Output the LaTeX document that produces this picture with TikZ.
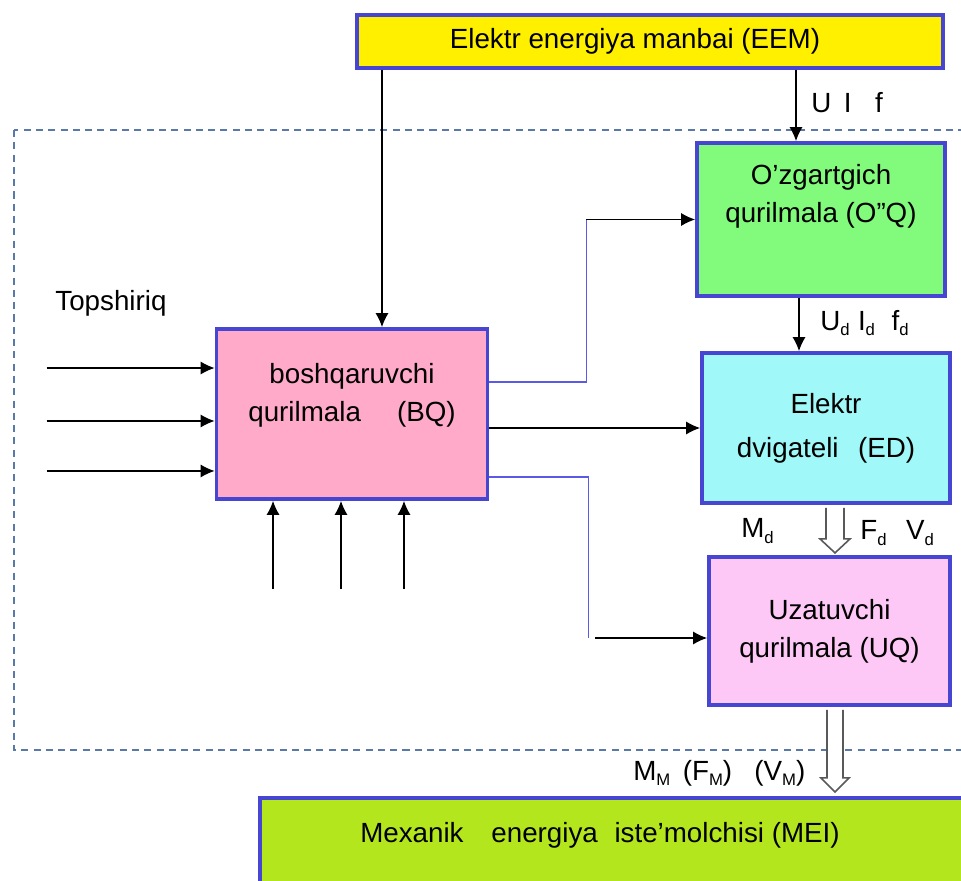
\documentclass[tikz,border=0pt]{standalone}
\usepackage{fontspec}
\setmainfont{Liberation Sans}
\usepackage{xcolor}
\definecolor{BorderBlue}{HTML}{4646D2}
\definecolor{FrameBlue}{HTML}{5A78A8}
\definecolor{LineBlue}{HTML}{5A5AE6}
\definecolor{SourceYellow}{HTML}{FFF000}
\definecolor{ConvGreen}{HTML}{82FA7C}
\definecolor{MotorCyan}{HTML}{A0F8F8}
\definecolor{GearPink}{HTML}{FDC8F6}
\definecolor{CtrlPink}{HTML}{FFAAC8}
\definecolor{LoadLime}{HTML}{B4E61E}
\usepackage{tikz}
\usetikzlibrary{calc, arrows.meta, positioning}
\newcommand{\lowsub}[1]{\raisebox{-0.35ex}{\fontsize{9.5}{9.5}\selectfont #1}}

\begin{document}
\begin{tikzpicture}[x=0.02cm, y=-0.02cm,
  font=\fontsize{15.8}{21.5}\selectfont,
  blockbox/.style={draw=BorderBlue, line width=2.2pt, align=center, inner sep=0pt},
  sig/.style={-{Latex[length=8pt,width=7.5pt]}, line width=0.7pt},
  ctrl/.style={LineBlue, line width=0.8pt},
  hollow/.style={draw=black!65, fill=white, line width=0.9pt},
  lbl/.style={inner sep=0pt, anchor=west}]
  \clip (0,0) rectangle (961,881);
  % dashed frame
  \draw[dashed, FrameBlue, line width=0.7pt, dash pattern=on 4pt off 3pt] (14,130) rectangle (995,750);

  % blocks
  \node[blockbox, fill=SourceYellow, minimum width=11.72cm, minimum height=1.06cm] (EEM) at (650,41.5) {Elektr energiya manbai (EEM)\hspace*{0.6cm}};
  \node[blockbox, fill=ConvGreen, minimum width=4.96cm, minimum height=3.06cm] (OQ) at (821,219.5) {O’zgartgich\\qurilmala (O”Q)\\[0.3cm]};
  \node[blockbox, fill=MotorCyan, minimum width=4.96cm, minimum height=3cm] (ED) at (826,428) {Elektr\\[0.12cm]dvigateli\hspace{0.7em}(ED)};
  \node[blockbox, fill=CtrlPink, minimum width=5.42cm, minimum height=3.4cm] (BQ) at (352,414) {boshqaruvchi\\qurilmala\hspace{1.3em}(BQ)\\[0.1cm]};
  \node[blockbox, fill=GearPink, minimum width=4.82cm, minimum height=2.96cm] (UQ) at (829.5,631) {Uzatuvchi\\qurilmala (UQ)};
  \node[blockbox, fill=LoadLime, minimum width=15cm, minimum height=2.2cm, anchor=north west] (MEI) at (258,796) {};
  \node (MEItxt) at (600,835) {Mexanik\hspace{1em}energiya\hspace{0.6em}iste’molchisi (MEI)};

  % labels
  \node[lbl] (task) at (55,303) {Topshiriq};
  \node[lbl] (uif) at (811,103) {U\hspace{0.45em}I\hspace{0.85em}f};
  \node[lbl] (uidf) at (820,323) {U\lowsub{d}\hspace{0.3em}I\lowsub{d}\hspace{0.6em}f\lowsub{d}};
  \node[lbl] (md) at (741,531) {M\lowsub{d}};
  \node[lbl] (fv) at (860,533) {F\lowsub{d}\hspace{0.7em}V\lowsub{d}};
  \node[lbl] (mfv) at (633,773) {M\lowsub{M}\hspace{0.45em}(F\lowsub{M})\hspace{0.8em}(V\lowsub{M})};

  % power path
  \coordinate (oqtop) at ([xshift=-0.5cm]OQ.north);
  \draw[sig] (EEM.south -| oqtop) -- (oqtop);
  \coordinate (oqbot) at ([xshift=-0.44cm]OQ.south);
  \draw[sig] (oqbot) -- (oqbot |- ED.north);
  \coordinate (bqtop) at ([xshift=0.6cm]BQ.north);
  \draw[sig] (EEM.south -| bqtop) -- (bqtop);

  % control outputs
  \coordinate (bqa) at ([yshift=0.64cm]BQ.east);
  \coordinate (ka) at ([xshift=1.94cm]bqa);
  \draw[ctrl] (bqa) -- (ka) -- (ka |- OQ.west);
  \draw[sig] (ka |- OQ.west) -- (OQ.west);
  \draw[sig] (BQ.east |- ED.west) -- (ED.west);
  \coordinate (bqc) at ([yshift=-1.26cm]BQ.east);
  \coordinate (kc) at ([xshift=1.98cm]bqc);
  \draw[ctrl] (bqc) -- (kc) -- ([yshift=-0.14cm]kc |- UQ.west);
  \coordinate (kd) at ([xshift=0.14cm, yshift=-0.14cm]kc |- UQ.west);
  \draw[sig] (kd) -- (kd -| UQ.west);

  % inputs
  \foreach \dy [count=\i] in {0.92,-0.14,-1.14} {
    \coordinate (in\i) at ([yshift=\dy cm]BQ.west);
    \draw[sig] ([xshift=-3.36cm]in\i) -- (in\i);
  }
  \foreach \dx [count=\i] in {-1.58,-0.22,1.04} {
    \coordinate (up\i) at ([xshift=\dx cm]BQ.south);
    \draw[sig] ([yshift=-1.76cm]up\i) -- (up\i);
  }

  % mechanical flow
  \coordinate (eda) at ([xshift=0.18cm, yshift=-0.06cm]ED.south);
  \draw[hollow] ([xshift=-0.18cm]eda) -- ++(0,31) -- ++(-6,0) -- ++(15,14) -- ++(15,-14) -- ++(-6,0) -- ++(0,-31);
  \coordinate (uqa) at ([xshift=0.11cm, yshift=-0.06cm]UQ.south);
  \draw[hollow] ([xshift=-0.16cm]uqa) -- ++(0,68) -- ++(-6,0) -- ++(14,14) -- ++(14,-14) -- ++(-6,0) -- ++(0,-68);
\end{tikzpicture}
\end{document}
